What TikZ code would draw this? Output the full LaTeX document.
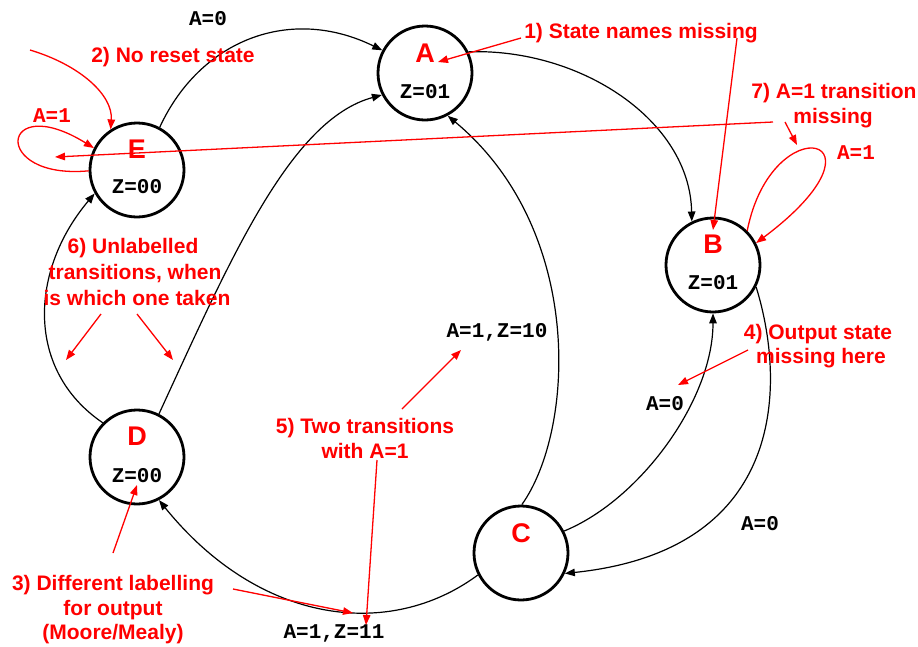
\documentclass[tikz,border=0pt]{standalone}
\usepackage{fontspec}
\setmainfont{Liberation Sans}
\newfontfamily\codefont{Liberation Mono}
\usetikzlibrary{arrows.meta}
\begin{document}
\begin{tikzpicture}[x=1pt,y=-1pt,
  state/.style={circle,draw,line width=2.8pt,minimum size=94pt,inner sep=0pt},
  sname/.style={text=red,font=\fontsize{27}{30}\selectfont\bfseries,anchor=base,inner sep=0pt},
  outp/.style={font=\codefont\fontsize{21}{24}\selectfont\bfseries,anchor=base,inner sep=0pt},
  redout/.style={outp,text=red},
  trans/.style={line width=1.2pt,-{Triangle[length=10pt,width=7.5pt]}},
  note/.style={text=red,font=\fontsize{21}{25}\selectfont\bfseries,anchor=base,inner sep=0pt},
  notearrow/.style={red,line width=1.3pt,-{Triangle[length=10pt,width=7.5pt]}},
]
\useasboundingbox (0,0) rectangle (918,646);

% states
\node[state] (A) at (425,73) {};
\node[state] (B) at (713,265) {};
\node[state] (C) at (521,553) {};
\node[state] (D) at (137,457) {};
\node[state] (E) at (137,170) {};

% state names and Moore outputs
\node[sname] (An) at (425,62) {A};
\node[sname] (Bn) at (713,253) {B};
\node[sname] (Cn) at (521,542) {C};
\node[sname] (Dn) at (137,445) {D};
\node[sname] (En) at (137,158) {E};
\node[outp] (Az) at (425,98) {Z=01};
\node[outp] (Bz) at (713,289) {Z=01};
\node[outp] (Dz) at (137,482) {Z=00};
\node[outp] (Ez) at (137,193) {Z=00};

% transitions
\draw[trans] (E.62) .. controls (200,40) and (290,5) .. (A.152);
\draw[trans] (D.63) .. controls (230,260) and (290,120) .. (A.207);
\draw[trans] (D.135) .. controls (25,370) and (30,270) .. (E.209);
\draw[trans] (A.26) .. controls (580,48) and (690,120) .. (B.116);
\draw[trans] (C.89) .. controls (575,430) and (585,230) .. (A.298);
\draw[trans] (C.27) .. controls (640,500) and (713,400) .. (B.270);
\draw[trans] (B.-27) .. controls (785,380) and (790,550) .. (C.-25);
\draw[trans] (C.207) .. controls (390,640) and (260,625) .. (D.-63);

% transition labels
\node[outp] (lEA) at (208,25) {A=0};
\node[outp] (lCA) at (497,337) {A=1,Z=10};
\node[outp] (lCB) at (665,410) {A=0};
\node[outp] (lBC) at (760,530) {A=0};
\node[outp] (lCD) at (334,638) {A=1,Z=11};

% added self-loops (red)
\draw[notearrow] (E.181) .. controls (-10,180) and (0,90) .. (E.153);
\node[redout] (lEE) at (52,122) {A=1};
\draw[notearrow] (B.45) .. controls (772,105) and (900,135) .. (B.27);
\node[redout] (lBB) at (856,159) {A=1};

% 1) state names
\node[note] (n1) at (641,38) {1) State names missing};
\coordinate (n1s) at (521,38);
\coordinate (n1t) at (438,62);
\draw[notearrow] (n1s) -- (n1t);
\coordinate (n1u) at (737,38);
\coordinate (n1v) at (713,230);
\draw[notearrow] (n1u) -- (n1v);

% 2) reset state
\node[note] (n2) at (173,62) {2) No reset state};
\coordinate (rs) at (30,50);
\draw[notearrow] (rs) .. controls (80,65) and (113,95) .. (E.123);

% 3) labelling
\node[note] (n3a) at (113,590) {3) Different labelling};
\node[note] (n3b) at (113,615) {for output};
\node[note] (n3c) at (113,639) {(Moore/Mealy)};
\coordinate (n3s) at (113,553);
\coordinate (n3t) at (137,485);
\draw[notearrow] (n3s) -- (n3t);
\coordinate (n3u) at (233,589);
\coordinate (n3v) at (353,613);
\draw[notearrow] (n3u) -- (n3v);

% 4) output missing
\node[note] (n4a) at (818,339) {4) Output state};
\node[note] (n4b) at (821,363) {missing here};
\coordinate (n4s) at (748,350);
\coordinate (n4t) at (678,385);
\draw[notearrow] (n4s) -- (n4t);

% 5) two transitions
\node[note] (n5a) at (365,433) {5) Two transitions};
\node[note] (n5b) at (365,458) {with A=1};
\coordinate (n5s) at (402,409);
\coordinate (n5t) at (461,350);
\draw[notearrow] (n5s) -- (n5t);
\coordinate (n5u) at (377,460);
\coordinate (n5v) at (366,625);
\draw[notearrow] (n5u) -- (n5v);

% 6) unlabelled transitions
\node[note] (n6a) at (133,253) {6) Unlabelled};
\node[note] (n6b) at (135,279) {transitions, when};
\node[note] (n6c) at (137,305) {is which one taken};
\coordinate (n6s) at (101,314);
\coordinate (n6t) at (66,360);
\draw[notearrow] (n6s) -- (n6t);
\coordinate (n6u) at (137,314);
\coordinate (n6v) at (173,360);
\draw[notearrow] (n6u) -- (n6v);

% 7) missing transition
\node[note] (n7a) at (834,98) {7) A=1 transition};
\node[note] (n7b) at (833,123) {missing};
\coordinate (n7s) at (773,122);
\coordinate (n7t) at (55,157);
\draw[notearrow] (n7s) -- (n7t);
\coordinate (n7u) at (785,122);
\coordinate (n7v) at (797,145);
\draw[notearrow] (n7u) -- (n7v);

\end{tikzpicture}
\end{document}
